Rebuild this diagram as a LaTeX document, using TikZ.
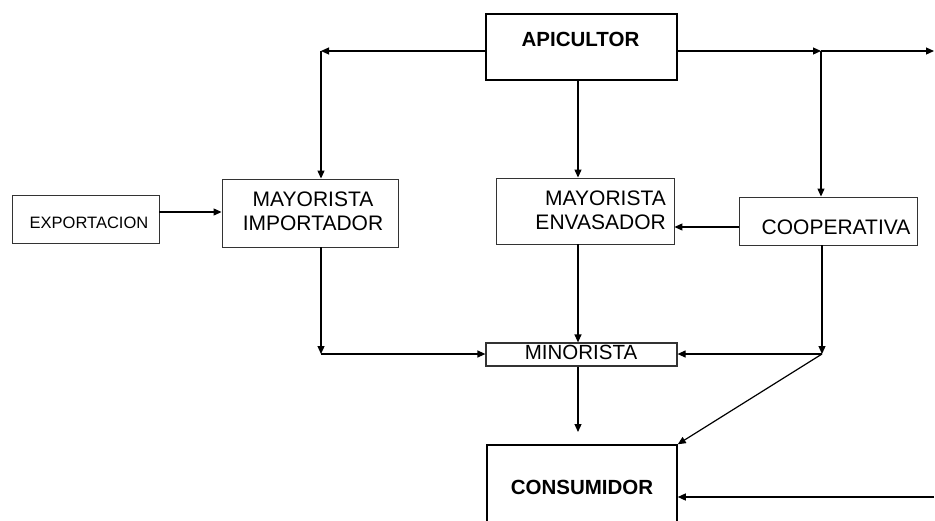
\documentclass[tikz,border=0pt]{standalone}
\usepackage{fontspec}
\setmainfont{Liberation Sans}
\usetikzlibrary{arrows.meta}
\begin{document}
\begin{tikzpicture}[x=1pt,y=-1pt,
  box/.style={draw=black!80, line width=0.9pt, inner sep=0pt},
  bbox/.style={draw=black, line width=1.8pt, inner sep=0pt},
  txt/.style={inner sep=0pt, font=\fontsize{21}{23.5}\selectfont},
  btxt/.style={inner sep=0pt, font=\fontsize{20.5}{23.5}\selectfont\bfseries},
  arr/.style={line width=1.2pt, -{Triangle[length=8pt,width=7pt]}},
  ln/.style={line width=1.2pt}]
\useasboundingbox (0,0) rectangle (935,520);
\clip (0,0) rectangle (935,520);
% boxes
\node[bbox, minimum width=191pt, minimum height=66pt] (api) at (581.5,47) {};
\node[btxt] (apit) at (580.5,39.5) {APICULTOR};
\node[box, minimum width=147pt, minimum height=48pt] (exp) at (85.5,219) {};
\node[txt, font=\fontsize{16.5}{20}\selectfont] (expt) at (89,222.5) {EXPORTACION};
\node[box, minimum width=176pt, minimum height=68pt] (mi) at (310,213) {};
\node[txt, align=center] (mit) at (313,211.5) {MAYORISTA\\IMPORTADOR};
\node[box, minimum width=178pt, minimum height=66pt] (me) at (585,211) {};
\node[txt, align=right, anchor=east] (met) at (666,210.5) {MAYORISTA\\ENVASADOR};
\node[box, minimum width=178pt, minimum height=48pt] (coop) at (828,221) {};
\node[txt] (coopt) at (836,227) {COOPERATIVA};
\node[box, line width=1.2pt, minimum width=191pt, minimum height=23pt] (min) at (581.5,354.5) {};
\node[txt, font=\fontsize{20.5}{23.5}\selectfont] (mint) at (581,352) {MINORISTA};
\node[bbox, line width=1.5pt, minimum width=190pt, minimum height=100pt] (con) at (582,495) {};
\node[btxt] (cont) at (582,487) {CONSUMIDOR};
% coordinates
\coordinate (c1) at (321,51);
\coordinate (c2) at (821,51);
\coordinate (c3) at (934,51);
\coordinate (c4) at (321,354);
\coordinate (c5) at (822,354);
\coordinate (c6) at (578,432);
\coordinate (c7) at (934,497);
% connectors
\draw[arr] (api.west |- c1) -- (c1);
\draw[arr] (c1) -- (mi.north -| c1);
\draw[arr] (api.east |- c2) -- (c2);
\draw[arr] (c2) -- (c3);
\draw[arr] (c2) -- (coop.north -| c2);
\draw[arr] (api.south -| c6) -- (me.north -| c6);
\draw[arr] (exp.east |- 0,212) -- (mi.west |- 0,212);
\draw[arr] (coop.west |- 0,227) -- (me.east |- 0,227);
\draw[arr] (mi.south -| c4) -- (c4);
\draw[arr] (c4) -- (min.west |- c4);
\draw[arr] (me.south -| c6) -- (min.north -| c6);
\draw[arr] (coop.south -| c5) -- (c5);
\draw[arr] (c5) -- (min.east |- c5);
\draw[arr] (c5) -- (con.north east);
\draw[arr] (min.south -| c6) -- (c6);
\draw[arr] (c7) -- (con.east |- c7);
\end{tikzpicture}
\end{document}
